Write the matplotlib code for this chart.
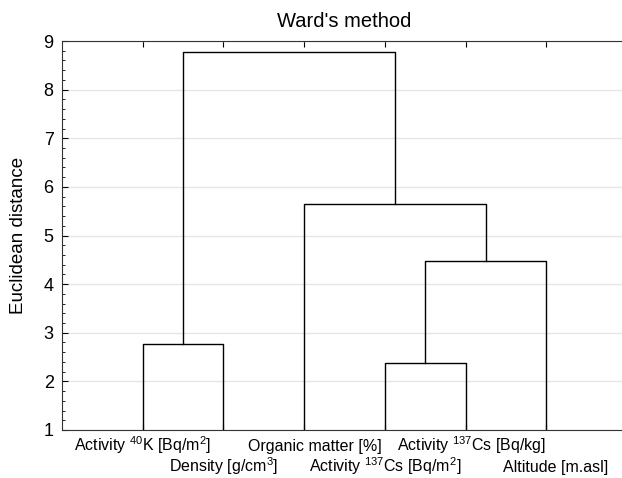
import numpy as np
import matplotlib.pyplot as plt
from matplotlib.ticker import MultipleLocator

plt.rcParams['font.family'] = ['Liberation Sans', 'DejaVu Sans']
plt.rcParams['mathtext.fontset'] = 'custom'
plt.rcParams['mathtext.rm'] = 'Liberation Sans'

# leaves in dendrogram order
leaf_labels = [
    r"Activity $^{\mathrm{40}}$K [Bq/m$^{\mathrm{2}}$]",
    r"Density [g/cm$^{\mathrm{3}}$]",
    "Organic matter [%]",
    r"Activity $^{\mathrm{137}}$Cs [Bq/m$^{\mathrm{2}}$]",
    r"Activity $^{\mathrm{137}}$Cs [Bq/kg]",
    "Altitude [m.asl]",
]
# merges: (left node, right node, distance); new nodes numbered from 6
merges = [
    (0, 1, 2.77),
    (3, 4, 2.38),
    (7, 5, 4.47),
    (2, 8, 5.65),
    (6, 9, 8.78),
]

ymin = 1.0
label_dx = [0.0, 0.0, 0.13, 0.0, 0.07, 0.12]

fig = plt.figure(figsize=(6.22, 4.78), dpi=100)
ax = fig.add_axes([62 / 622, 48 / 478, 565 / 622, 389 / 478])

xpos = {i: i + 1 for i in range(len(leaf_labels))}
ypos = {i: ymin for i in range(len(leaf_labels))}
node = len(leaf_labels)
for a, b, h in merges:
    xa, xb = xpos[a], xpos[b]
    ax.plot([xa, xa, xb, xb], [ypos[a], h, h, ypos[b]], color='black', lw=1.0)
    xpos[node] = (xa + xb) / 2
    ypos[node] = h
    node += 1

ax.set_xlim(0, 7)
ax.set_ylim(1, 9)
ax.set_xticks(np.arange(1, 7))
ax.set_xticklabels([])
ax.yaxis.set_major_locator(MultipleLocator(1))
ax.yaxis.set_minor_locator(MultipleLocator(0.2))
ax.tick_params(axis='x', direction='in', top=True, length=4)
ax.tick_params(axis='y', which='major', direction='in', length=4, labelsize=13, pad=6)
ax.tick_params(axis='y', which='minor', direction='in', length=2)
ax.grid(axis='y', color='#e6e6e6', lw=1)
ax.set_axisbelow(True)
ax.spines['right'].set_visible(False)
for s in ax.spines.values():
    s.set_color('#333333')

for i, lab in enumerate(leaf_labels):
    yoff = -0.054 if i % 2 == 0 else -0.108
    ax.text(i + 1 + label_dx[i], yoff, lab, transform=ax.get_xaxis_transform(),
            ha='center', va='baseline', fontsize=11.5)

ax.set_title("Ward's method", fontsize=14.5, pad=10)
ax.set_ylabel("Euclidean distance", fontsize=13.5, labelpad=12)

fig.savefig('out.png', dpi=100)
